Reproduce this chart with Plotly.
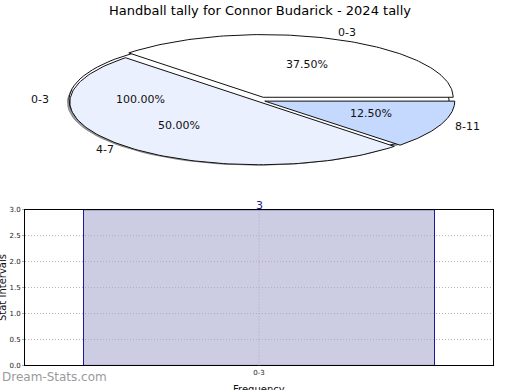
import numpy as np
import plotly.graph_objects as go

# ---- data ----
title_text = "Handball tally for Connor Budarick - 2024 tally"
pie_labels = ["0-3", "4-7", "8-11"]
pie_values = [3, 4, 1]
pie_colors = ["#FFFFFF", "#EAF0FD", "#C5D8FE"]
overlay_labels = ["0-3"]
overlay_values = [3]
bar_categories = ["0-3"]
bar_values = [3]
y_ticks = [0.0, 0.5, 1.0, 1.5, 2.0, 2.5, 3.0]
y_tick_labels = ["0.0", "0.5", "1.0", "1.5", "2.0", "2.5", "3.0"]

W, H = 520, 390
# pie geometry (pixel space of overlay axis)
CX, CY, RA, RB, EXP = 262, 98, 190, 64, 3
FONT = "DejaVu Sans"

fig = go.Figure()


def ell(t, ox, oy):
    return ox + RA * np.cos(t), oy - RB * np.sin(t)


def slice_shapes(values, labels):
    tot = float(sum(values))
    out = []
    start = 0.0
    for v, lab in zip(values, labels):
        span = 2 * np.pi * v / tot
        mid = start + span / 2
        ox = CX + EXP * np.cos(mid)
        oy = CY - EXP * np.sin(mid)
        t = np.linspace(start, start + span, 120)
        ex, ey = ell(t, ox, oy)
        out.append((ox, oy, ex, ey, mid, v / tot, lab))
        start += span
    return out


# overlay (100%) series drawn as the back ellipse with shadow
for ox, oy, ex, ey, mid, frac, lab in slice_shapes(overlay_values, overlay_labels):
    fig.add_trace(go.Scatter(x=list(ex - 1.5), y=list(ey + 2.5), xaxis="x2", yaxis="y2",
                             mode="lines", fill="toself", fillcolor="#9A9A9A",
                             line=dict(color="#8A8A8A", width=1), hoverinfo="skip"))
    fig.add_trace(go.Scatter(x=list(ex), y=list(ey), xaxis="x2", yaxis="y2",
                             mode="lines", fill="toself", fillcolor="#FFFFFF",
                             line=dict(color="#111111", width=1), hoverinfo="skip"))

annots = []
for (ox, oy, ex, ey, mid, frac, lab), col in zip(slice_shapes(pie_values, pie_labels), pie_colors):
    xs = [ox] + list(ex) + [ox]
    ys = [oy] + list(ey) + [oy]
    fig.add_trace(go.Scatter(x=xs, y=ys, xaxis="x2", yaxis="y2", mode="lines",
                             fill="toself", fillcolor=col,
                             line=dict(color="#111111", width=1), hoverinfo="skip"))
    annots.append(dict(x=CX + 1.17 * RA * np.cos(mid), y=CY - 1.14 * RB * np.sin(mid) - 1, text=lab))
    annots.append(dict(x=CX + 0.62 * RA * np.cos(mid), y=CY - 0.6 * RB * np.sin(mid) - 1,
                       text="%.2f%%" % (frac * 100)))

for ox, oy, ex, ey, mid, frac, lab in slice_shapes(overlay_values, overlay_labels):
    annots.append(dict(x=CX + 1.17 * RA * np.cos(mid), y=CY - 1.12 * RB * np.sin(mid) - 1, text=lab))
    annots.append(dict(x=CX + 0.64 * RA * np.cos(mid), y=CY - 0.6 * RB * np.sin(mid) - 1,
                       text="%.2f%%" % (frac * 100)))

annotations = []
for a in annots:
    annotations.append(dict(x=a["x"], y=a["y"], text=a["text"], xref="x2", yref="y2",
                            showarrow=False, xanchor="center", yanchor="middle",
                            font=dict(family=FONT, size=11, color="#111111")))

annotations.append(dict(x=W / 2, y=7, text=title_text, xref="x2", yref="y2", showarrow=False,
                        xanchor="center", yanchor="middle",
                        font=dict(family=FONT, size=13, color="#000000")))
annotations.append(dict(x=2, y=290, text="Stat Intervals", xref="x2", yref="y2", showarrow=False,
                        textangle=-90, xanchor="center", yanchor="middle",
                        font=dict(family=FONT, size=10, color="#111111")))
annotations.append(dict(x=259, y=389, text="Frequency", xref="x2", yref="y2", showarrow=False,
                        xanchor="center", yanchor="middle", yshift=-4,
                        font=dict(family=FONT, size=10, color="#111111")))
annotations.append(dict(x=0, y=381, text="Dream-Stats.com", xref="x2", yref="y2", showarrow=False,
                        xanchor="left", yanchor="middle",
                        font=dict(family=FONT, size=12, color="#9A9A9A")))

# ---- bar chart ----
fig.add_trace(go.Bar(x=bar_categories, y=bar_values, width=0.75,
                     marker=dict(color="#CCCCE3", line=dict(color="#1A1A9A", width=1)),
                     hoverinfo="skip"))
for c, v in zip(bar_categories, bar_values):
    annotations.append(dict(x=c, y=v, xref="x", yref="y", text=str(v), showarrow=False,
                            xanchor="center", yanchor="middle", yshift=4,
                            font=dict(family=FONT, size=11, color="#1A1A9A")))

shapes = []
for yv in y_ticks[1:-1]:
    shapes.append(dict(type="line", xref="x domain", yref="y", x0=0, x1=1, y0=yv, y1=yv,
                       line=dict(color="#B0B0B0", width=1, dash="1px,2px"), layer="above"))
for c in bar_categories:
    shapes.append(dict(type="line", xref="x", yref="y domain", x0=c, x1=c, y0=0, y1=1,
                       line=dict(color="#B0B0B0", width=1, dash="1px,2px"), layer="above"))

fig.update_layout(
    width=W, height=H, margin=dict(l=0, r=0, t=0, b=0),
    paper_bgcolor="white", plot_bgcolor="rgba(0,0,0,0)", showlegend=False,
    annotations=annotations, shapes=shapes,
    xaxis=dict(domain=[25 / W, 493 / W], range=[-0.5, 0.5], showgrid=False, zeroline=False,
               showline=True, mirror=True, linecolor="#000000", linewidth=1,
               ticks="", tickfont=dict(family=FONT, size=7, color="#222222"), fixedrange=True),
    yaxis=dict(domain=[(H - 369) / H, (H - 210) / H], range=[0, 3], showgrid=False, zeroline=False,
               showline=True, mirror=True, linecolor="#000000", linewidth=1,
               tickvals=y_ticks, ticktext=y_tick_labels, ticks="outside", ticklen=2,
               tickcolor="#AAAAAA", tickfont=dict(family=FONT, size=7, color="#222222"),
               fixedrange=True),
    xaxis2=dict(domain=[0, 1], range=[0, W], visible=False, fixedrange=True, anchor="y2"),
    yaxis2=dict(domain=[0, 1], range=[H, 0], visible=False, fixedrange=True, anchor="x2"),
)

fig.write_html("out.html", config={"displayModeBar": False, "staticPlot": True},
               post_script="document.body.style.margin='0';document.body.style.padding='0';")
